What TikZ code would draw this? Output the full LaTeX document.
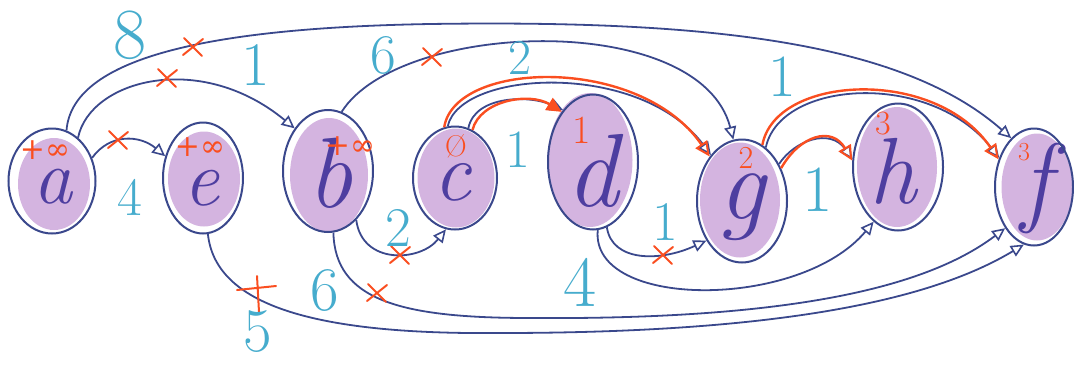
\documentclass[tikz,border=0pt]{standalone}
\usepackage{fontspec}
\newfontfamily\symfont{DejaVu Serif}
\usetikzlibrary{arrows.meta,shapes.geometric}
\definecolor{ink}{RGB}{58,72,140}
\definecolor{lilac}{RGB}{212,180,224}
\definecolor{letter}{RGB}{78,62,160}
\definecolor{wcol}{RGB}{70,172,205}
\definecolor{pen}{RGB}{250,78,32}

\begin{document}
\begin{tikzpicture}[x=1pt,y=1pt,
  ring/.style={ellipse,draw=ink,line width=2pt,inner sep=0pt},
  blob/.style={ellipse,fill=lilac,inner sep=0pt},
  glyph/.style={text=letter,inner sep=0pt,anchor=base,font=\fontsize{#1}{#1}\selectfont\itshape},
  link/.style={draw=ink,line width=1.8pt,-{Triangle[open,length=13pt,width=12pt,line width=1.6pt]}},
  hot/.style={draw=pen,line width=2.4pt,-{Triangle[open,length=15pt,width=14pt,line width=2pt]}},
  strike/.style={draw=pen,line width=2pt,line cap=round},
  wt/.style={text=wcol,font=\fontsize{#1}{#1}\selectfont},wt/.default=56,
  dlab/.style={text=pen,font=\fontsize{#1}{#1}\selectfont},dlab/.default=30]
\useasboundingbox (0,0) rectangle (1074,-365);
% vertices: purple fill, letter, then outline
\node[blob,minimum width=72pt,minimum height=92pt] (pa) at (54,-184) {};
\node[blob,minimum width=72pt,minimum height=95pt] (pe) at (204,-179) {};
\node[blob,minimum width=78pt,minimum height=114pt] (pb) at (329,-175) {};
\node[blob,minimum width=77pt,minimum height=99pt] (pc) at (456,-178) {};
\node[blob,minimum width=85pt,minimum height=134pt] (pd) at (590,-160) {};
\node[blob,minimum width=80pt,minimum height=115pt] (pg) at (740,-200) {};
\node[blob,minimum width=80pt,minimum height=120pt] (ph) at (897,-167) {};
\node[blob,minimum width=71pt,minimum height=107pt] (pf) at (1037,-187) {};
\node[glyph=78] (la) at (53,-203) {a};
\node[glyph=80] (le) at (201,-205) {e};
\node[glyph=100] (lb) at (330,-207) {b};
\node[glyph=84] (lc) at (452,-200) {c};
\node[glyph=104] (ld) at (592,-206) {d};
\node[glyph=104] (lg) at (742,-219) {g};
\node[glyph=94] (lh) at (893,-203) {h};
\node[glyph=100] (lf) at (1036,-213) {f};
\node[ring,minimum width=87pt,minimum height=105pt] (a) at (52,-181) {};
\node[ring,minimum width=80pt,minimum height=111pt] (e) at (203,-178) {};
\node[ring,minimum width=90pt,minimum height=122pt] (b) at (328,-171) {};
\node[ring,minimum width=84pt,minimum height=103pt] (c) at (455,-178) {};
\node[ring,minimum width=90pt,minimum height=135pt] (d) at (593,-162) {};
\node[ring,minimum width=90pt,minimum height=123pt] (g) at (742,-201) {};
\node[ring,minimum width=90pt,minimum height=127pt] (h) at (898,-167) {};
\node[ring,minimum width=78pt,minimum height=117pt] (f) at (1034,-187) {};
% edges
\draw[link] (a.74) .. controls (72,-60) and (200,-28) .. (430,-24) .. controls (700,-20) and (900,-40) .. (f.115);
\draw[link] (a.59) .. controls (90,-80) and (200,-50) .. (b.128);
\draw[link] (a.30) .. controls (110,-133) and (140,-135) .. (e.150);
\draw[link] (e.-85) .. controls (215,-300) and (300,-335) .. (500,-333) .. controls (800,-333) and (940,-295) .. (f.-100);
\draw[link] (b.-85) .. controls (335,-300) and (400,-318) .. (530,-318) .. controls (800,-320) and (930,-285) .. (f.-125);
\draw[link] (b.-60) .. controls (362,-265) and (420,-262) .. (c.-100);
\draw[link] (b.77) .. controls (400,-20) and (700,-10) .. (g.98);
\draw[link] (c.98) .. controls (460,-70) and (640,-60) .. (g.124);
\draw[link] (c.75) .. controls (475,-95) and (530,-95) .. (d.120);
\draw[link] (d.-78) .. controls (612,-262) and (660,-262) .. (g.-132);
\draw[link] (d.-86) .. controls (590,-310) and (800,-310) .. (h.-114);
\draw[link] (g.45) .. controls (795,-140) and (830,-128) .. (h.170);
\draw[link] (g.66) .. controls (780,-80) and (930,-70) .. (f.140);
% shortest path tree in red
\draw[hot,-{Triangle[length=15pt,width=14pt]}] (c.70) .. controls (480,-100) and (530,-92) .. (d.122);
\draw[hot] (c.102) .. controls (455,-60) and (640,-55) .. (g.126);
\draw[hot] (g.40) .. controls (800,-135) and (832,-126) .. (h.172);
\draw[hot] (g.70) .. controls (775,-75) and (935,-66) .. (f.142);
% relaxed edges crossed out
\foreach \x/\y in {193/47,167/78,118/140,432/57,400/255,377/293,663/255}
  \draw[strike] (\x-10,-\y-8) -- (\x+10,-\y+8) (\x-9,-\y+9) -- (\x+9,-\y-9);
\draw[strike] (237,-290) -- (276,-286) (257,-276) -- (259,-312);
% weights
\node[wt=72] (w8) at (130,-35) {8};
\node[wt=62] (wab) at (256,-65) {1};
\node[wt=54] (wae) at (130,-197) {4};
\node[wt=62] (wef) at (258,-332) {5};
\node[wt=62] (wbf) at (325,-290) {6};
\node[wt=56] (wbg) at (383,-55) {6};
\node[wt=50] (wcg) at (520,-58) {2};
\node[wt=56] (wbc) at (398,-228) {2};
\node[wt=54] (wcd) at (518,-150) {1};
\node[wt=56] (wdg) at (665,-222) {1};
\node[wt=72] (wdh) at (580,-282) {4};
\node[wt=60] (wgf) at (782,-77) {1};
\node[wt=66] (wgh) at (818,-190) {1};
% distances
\node[dlab] (da) at (45,-150) {\symfont +∞};
\node[dlab] (de) at (200,-147) {\symfont +∞};
\node[dlab] (db) at (350,-146) {\symfont +∞};
\node[dlab=30] (dc) at (456,-146) {Ø};
\node[dlab=40] (dd) at (582,-130) {1};
\node[dlab=32] (dg) at (746,-158) {2};
\node[dlab=34] (dh) at (883,-124) {3};
\node[dlab=26] (df) at (1024,-152) {3};
\end{tikzpicture}
\end{document}
